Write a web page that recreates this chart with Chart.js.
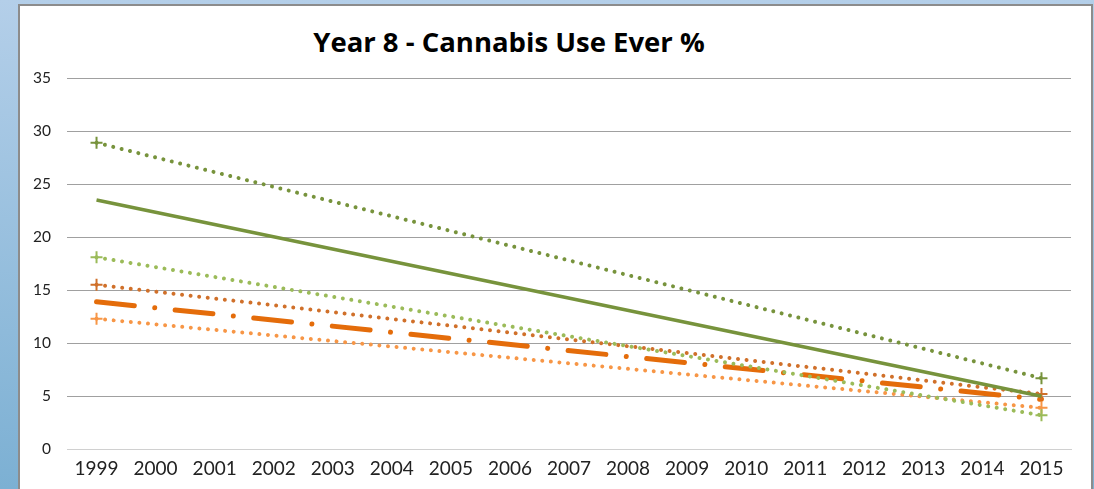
<!DOCTYPE html>
<html>
<head>
<meta charset="utf-8">
<script src="https://cdn.jsdelivr.net/npm/chart.js@4.4.1/dist/chart.umd.min.js"></script>
<style>
  html, body { margin: 0; padding: 0; }
  body {
    width: 1094px; height: 489px; overflow: hidden; position: relative;
    background: linear-gradient(to bottom, #b4cfe9, #7cb0d3);
  }
  #panel {
    position: absolute; left: 18px; top: 4px; width: 1071px; height: 490px;
    background: #fff; border: 2px solid #8c8c8c;
  }
  #title {
    position: absolute; left: 0; width: 1018px; top: 23px; text-align: center;
    font: bold 27.5px "Open Sans", sans-serif; color: #000;
  }
  #chart { position: absolute; left: 0; top: 0; }
</style>
</head>
<body>
<div id="panel"></div>
<div id="title">Year 8 - Cannabis Use Ever %</div>
<canvas id="chart" width="1094" height="489"></canvas>
<script>
const years = ["1999", "2000", "2001", "2002", "2003", "2004", "2005", "2006", "2007",
  "2008", "2009", "2010", "2011", "2012", "2013", "2014", "2015"];
const yTicks = [0, 5, 10, 15, 20, 25, 30, 35];

// only the end years carry a value, the rest is bridged with spanGaps
const darkGreenPts = [28.9, null, null, null, null, null, null, null, null, null, null, null, null, null, null, null, 6.7];
const darkGreenTrend = [23.5, null, null, null, null, null, null, null, null, null, null, null, null, null, null, null, 5.0];
const lightGreenPts = [18.1, null, null, null, null, null, null, null, null, null, null, null, null, null, null, null, 3.2];
const darkOrangePts = [15.5, null, null, null, null, null, null, null, null, null, null, null, null, null, null, null, 5.2];
const orangeTrend = [13.9, null, null, null, null, null, null, null, null, null, null, null, null, null, null, null, 4.7];
const lightOrangePts = [12.3, null, null, null, null, null, null, null, null, null, null, null, null, null, null, null, 3.9];

function dotted(data, color) {
  return {
    data: data,
    borderColor: color,
    backgroundColor: color,
    borderWidth: 4,
    borderDash: [0.01, 8.6],
    borderCapStyle: "round",
    pointStyle: "cross",
    pointRadius: 6,
    pointBorderWidth: 2,
    pointBorderColor: color,
    spanGaps: true,
  };
}

new Chart(document.getElementById("chart"), {
  type: "line",
  data: {
    labels: years,
    datasets: [
      dotted(darkGreenPts, "#77933c"),
      {
        data: darkGreenTrend,
        borderColor: "#77933c",
        borderWidth: 3.5,
        pointRadius: 0,
        spanGaps: true,
      },
      dotted(lightGreenPts, "#9bbb59"),
      dotted(darkOrangePts, "#d0702a"),
      {
        data: orangeTrend,
        borderColor: "#e46c0a",
        borderWidth: 5,
        borderDash: [38, 20.5, 0.01, 20.5],
        borderCapStyle: "round",
        pointRadius: 0,
        spanGaps: true,
      },
      dotted(lightOrangePts, "#f79646"),
    ],
  },
  options: {
    responsive: false,
    animation: false,
    layout: { padding: { left: 0, right: 23, top: 78, bottom: 9 } },
    plugins: {
      legend: { display: false },
      tooltip: { enabled: false },
    },
    scales: {
      x: {
        offset: true,
        grid: { display: false },
        border: { display: true, color: "#d0d0d0", width: 1 },
        ticks: {
          color: "#222",
          padding: 0,
          maxRotation: 0,
          autoSkip: false,
          font: { family: "Lato", size: 19 },
        },
      },
      y: {
        min: 0,
        max: 35,
        afterFit: (scale) => { scale.width = 67; },
        afterBuildTicks: (scale) => { scale.ticks = yTicks.map((v) => ({ value: v })); },
        grid: {
          drawTicks: false,
          color: (ctx) => (ctx.tick && ctx.tick.value === 0 ? "#d0d0d0" : "#a0a0a0"),
          lineWidth: 1,
        },
        border: { display: false },
        ticks: {
          color: "#222",
          padding: 16,
          font: { family: "Lato", size: 15.5 },
        },
      },
    },
  },
});
</script>
</body>
</html>
